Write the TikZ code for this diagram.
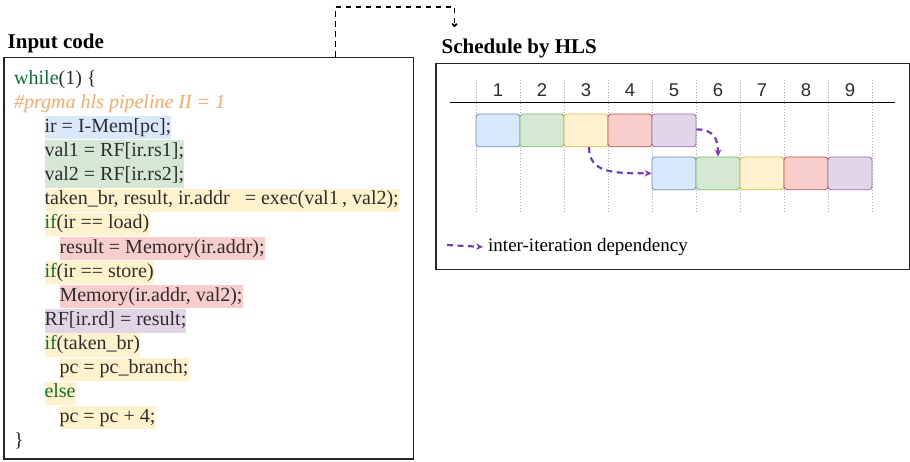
\documentclass[tikz,border=0pt]{standalone}
\usepackage{fontspec}
\setmainfont{Liberation Serif}
\newfontfamily\numfont{Liberation Sans}
\usetikzlibrary{arrows.meta}
\definecolor{hlblue}{RGB}{218,232,252}
\definecolor{hlgreen}{RGB}{213,232,212}
\definecolor{hlyellow}{RGB}{255,242,204}
\definecolor{hlred}{RGB}{248,206,204}
\definecolor{hlpurple}{RGB}{225,213,231}
\definecolor{bdblue}{RGB}{108,142,191}
\definecolor{bdgreen}{RGB}{130,179,102}
\definecolor{bdyellow}{RGB}{214,182,86}
\definecolor{bdred}{RGB}{184,84,80}
\definecolor{bdpurple}{RGB}{150,115,166}
\definecolor{kwgreen}{RGB}{12,112,52}
\definecolor{pragmaorange}{RGB}{246,170,105}
\definecolor{codetext}{RGB}{45,45,45}
\definecolor{deppurple}{RGB}{118,60,190}
\definecolor{gridgray}{RGB}{170,170,170}
\newcommand{\kw}[1]{\textcolor{kwgreen}{#1}}
\newcommand{\codefont}{\fontsize{20}{24}\selectfont}
\begin{document}
\begin{tikzpicture}[x=1pt,y=-1pt,
  frame/.style={draw=black!85, line width=1.2pt, inner sep=0pt, fill=none},
  title/.style={font=\fontsize{21}{24}\selectfont\bfseries, anchor=base west, inner sep=0pt},
  code/.style={anchor=base west, inner xsep=0pt, inner ysep=0pt, text height=16.2pt, text depth=7.1pt, font=\codefont, text=codetext},
  num/.style={font=\numfont\fontsize{18.5}{20}\selectfont, text=codetext, inner sep=0pt},
  sbox/.style={rounded corners=3pt, line width=0.8pt, minimum width=44pt, minimum height=32.7pt, inner sep=0pt},
  dep/.style={draw=deppurple, line width=2.2pt, dash pattern=on 6pt off 4.5pt, -{Stealth[length=7pt,width=6.5pt]}},
  conn/.style={draw=black, line width=1.8pt, dash pattern=on 5.5pt off 4.5pt, -{To[length=4pt,width=6pt]}},
  grid/.style={draw=gridgray, line width=0.9pt, dotted}
]
\useasboundingbox (0,0) rectangle (910,461);

% titles
\node[title] (t1) at (7.5,48.5) {Input code};
\node[title] (t2) at (441.5,53) {Schedule by HLS};

% frames
\node[frame, anchor=north west, minimum width=409.4pt, minimum height=401.6pt] (codebox) at (3.3,56.7) {};
\node[frame, anchor=north west, minimum width=474pt, minimum height=206.5pt] (schedbox) at (435.3,62.7) {};

% connector
\coordinate (cs) at (335.5,56.7);
\coordinate (ce) at (454.5,27);
\draw[conn] (cs) -- ++(0,-50) -| (ce);

% code
\node[code] (l0) at (14,84) {\kw{while}(1) \{};
\node[code, text=pragmaorange, font=\codefont\itshape] (l1) at (14,108.15) {\#prgma hls pipeline II = 1};
\node[code, fill=hlblue] (l2) at (44.3,132.3) {ir = I-Mem[pc];};
\node[code, fill=hlgreen] (l3) at (44.3,156.45) {val1 = RF[ir.rs1];};
\node[code, fill=hlgreen] (l4) at (44.3,180.6) {val2 = RF[ir.rs2];};
\node[code, fill=hlyellow] (l5) at (44.3,204.75) {taken\_br, result, ir.addr\ \ \ = exec(val1\,, val2);};
\node[code, fill=hlyellow] (l6) at (44.3,228.9) {\kw{if}(ir == load)};
\node[code, fill=hlred] (l7) at (59.3,253.05) {result = Memory(ir.addr);};
\node[code, fill=hlyellow] (l8) at (44.3,277.2) {\kw{if}(ir == store)};
\node[code, fill=hlred] (l9) at (59.3,301.35) {Memory(ir.addr, val2);};
\node[code, fill=hlpurple] (l10) at (44.3,325.5) {RF[ir.rd] = result;};
\node[code, fill=hlyellow] (l11) at (44.3,349.65) {\kw{if}(taken\_br)};
\node[code, fill=hlyellow] (l12) at (59.3,373.8) {pc = pc\_branch;};
\node[code, fill=hlyellow] (l13) at (44.3,397.95) {\kw{else}};
\node[code, fill=hlyellow] (l14) at (59.3,422.1) {pc = pc + 4;};
\node[code] (l15) at (14,446.25) {\}};

% schedule grid
\foreach \i in {0,...,9} {
  \draw[grid] (476+\i*44,80) -- (476+\i*44,212);
}
\draw[line width=1.3pt, black] (450,102.7) -- (895,102.7);
\foreach \i in {1,...,9} {
  \node[num] (n\i) at (454+\i*44,90) {\i};
}

% boxes row 1
\node[sbox, fill=hlblue, draw=bdblue] (a1) at (498,130.4) {};
\node[sbox, fill=hlgreen, draw=bdgreen] (a2) at (542,130.4) {};
\node[sbox, fill=hlyellow, draw=bdyellow] (a3) at (586,130.4) {};
\node[sbox, fill=hlred, draw=bdred] (a4) at (630,130.4) {};
\node[sbox, fill=hlpurple, draw=bdpurple] (a5) at (674,130.4) {};
% boxes row 2
\node[sbox, fill=hlblue, draw=bdblue] (b5) at (674,173.3) {};
\node[sbox, fill=hlgreen, draw=bdgreen] (b6) at (718,173.3) {};
\node[sbox, fill=hlyellow, draw=bdyellow] (b7) at (762,173.3) {};
\node[sbox, fill=hlred, draw=bdred] (b8) at (806,173.3) {};
\node[sbox, fill=hlpurple, draw=bdpurple] (b9) at (850,173.3) {};

% dependencies
\draw[dep] ([xshift=3pt]a3.south) .. controls +(0,26) and +(-38,0) .. (b5.west);
\draw[dep] ([yshift=1pt]a5.east) .. controls +(17,0) and +(0,-18) .. (b6.north);

% legend
\node[anchor=base west, inner sep=0pt, font=\fontsize{19}{22}\selectfont] (leg) at (488,251.5) {inter-iteration dependency};
\coordinate (ls) at (447,245);
\draw[dep] (ls) -- ([xshift=-5pt]leg.west);
\end{tikzpicture}
\end{document}
